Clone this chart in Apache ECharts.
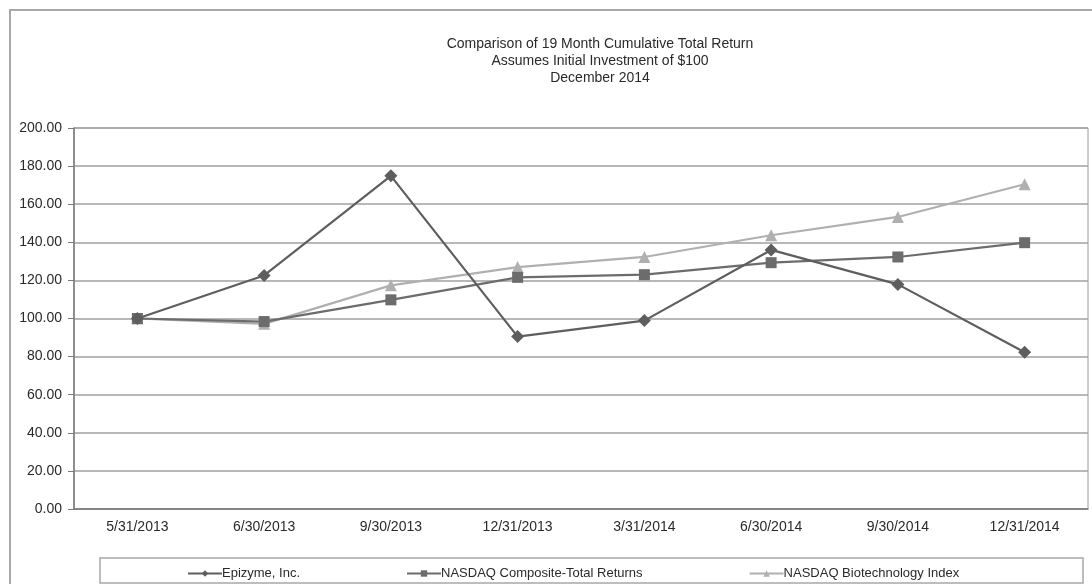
<!DOCTYPE html>
<html>
<head>
<meta charset="utf-8">
<script src="https://cdn.jsdelivr.net/npm/echarts@6/dist/echarts.min.js"></script>
<style>
    html, body { margin: 0; padding: 0; background: #fff; }
    #chart { width: 1092px; height: 584px; }
</style>
</head>
<body>
<div id="chart"></div>
<script>
// categories (period ends)
const periods = ['5/31/2013', '6/30/2013', '9/30/2013', '12/31/2013', '3/31/2014', '6/30/2014', '9/30/2014', '12/31/2014']
// cumulative total return
const epizyme = [100.0, 122.6, 174.9, 90.5, 98.9, 136.0, 117.9, 82.3]
const nasdaqComposite = [100.0, 98.4, 109.8, 121.6, 123.0, 129.3, 132.3, 139.8]
const nasdaqBiotech = [100.0, 97.2, 117.4, 127.0, 132.3, 143.7, 153.3, 170.5]
const seriesNames = ['Epizyme, Inc.', 'NASDAQ Composite-Total Returns', 'NASDAQ Biotechnology Index']
const yTicks = { min: 0, max: 200, step: 20 }

const font = 'Liberation Sans, Arial, sans-serif'
const chart = echarts.init(document.getElementById('chart'))

const option = {
    animation: false,
    title: {
        text: 'Comparison of 19 Month Cumulative Total Return\nAssumes Initial Investment of $100\nDecember 2014',
        left: 595,
        top: 31,
        textAlign: 'center',
        textStyle: {
            fontFamily: font,
            fontSize: 14,
            fontWeight: 'normal',
            color: '#2a2a2a',
            lineHeight: 17
        }
    },
    graphic: [
        // outer frame of the picture
        {
            type: 'rect',
            shape: { x: 10, y: 10, width: 1200, height: 700 },
            style: { fill: 'none', stroke: '#a8a8a8', lineWidth: 2 },
            silent: true
        },
        // legend box
        {
            type: 'rect',
            shape: { x: 100, y: 558, width: 983, height: 25 },
            style: { fill: 'none', stroke: '#a8a8a8', lineWidth: 1.5 },
            silent: true
        }
    ],
    legend: {
        data: seriesNames,
        left: 182,
        top: 562,
        itemGap: 106,
        itemWidth: 34,
        itemHeight: 8,
        textStyle: {
            fontFamily: font,
            fontSize: 13,
            color: '#2a2a2a',
            padding: [0, 0, 0, -5]
        }
    },
    grid: {
        left: 74,
        right: 4,
        top: 128,
        bottom: 75,
        show: true,
        borderColor: '#9a9a9a',
        borderWidth: 1
    },
    xAxis: {
        type: 'category',
        data: periods,
        boundaryGap: true,
        axisLine: { lineStyle: { color: '#7a7a7a', width: 1.5 } },
        axisTick: { alignWithLabel: true, inside: true, length: 3, lineStyle: { color: '#7a7a7a' } },
        axisLabel: {
            fontFamily: font,
            fontSize: 14,
            color: '#2a2a2a',
            margin: 11
        }
    },
    yAxis: {
        type: 'value',
        min: yTicks.min,
        max: yTicks.max,
        interval: yTicks.step,
        axisLine: { show: true, lineStyle: { color: '#7a7a7a', width: 1.5 } },
        axisTick: { show: true, length: 6, lineStyle: { color: '#7a7a7a' } },
        axisLabel: {
            fontFamily: font,
            fontSize: 14,
            color: '#2a2a2a',
            margin: 12,
            formatter: v => v.toFixed(2)
        },
        splitLine: { lineStyle: { color: '#a0a0a0', width: 1.5 } }
    },
    series: [
        {
            name: seriesNames[0],
            type: 'line',
            data: epizyme,
            symbol: 'diamond',
            symbolSize: 13,
            z: 4,
            itemStyle: { color: '#5e5e5e' },
            lineStyle: { color: '#5e5e5e', width: 2.2 }
        },
        {
            name: seriesNames[1],
            type: 'line',
            data: nasdaqComposite,
            symbol: 'rect',
            symbolSize: 11,
            z: 3,
            itemStyle: { color: '#6c6c6c' },
            lineStyle: { color: '#6c6c6c', width: 2.2 }
        },
        {
            name: seriesNames[2],
            type: 'line',
            data: nasdaqBiotech,
            symbol: 'triangle',
            symbolSize: 12,
            z: 2,
            itemStyle: { color: '#b0b0b0' },
            lineStyle: { color: '#b0b0b0', width: 2.2 }
        }
    ]
}

chart.setOption(option)
</script>
</body>
</html>
